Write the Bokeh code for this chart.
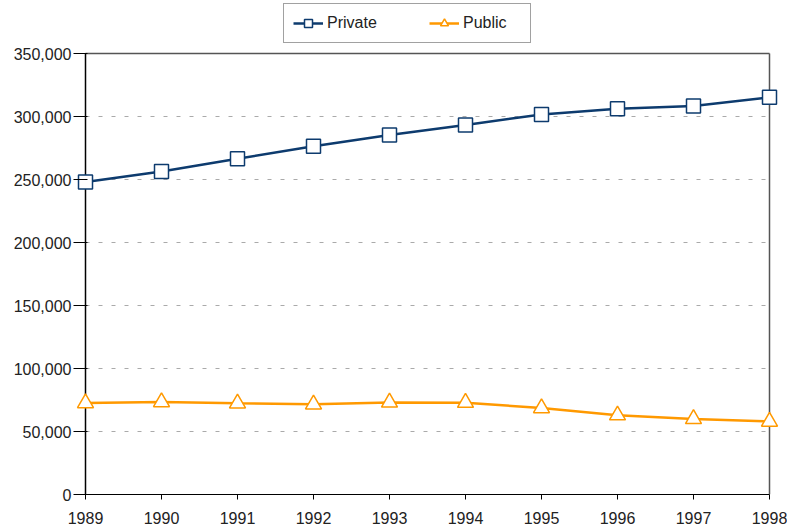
from bokeh.plotting import figure
from bokeh.models import Legend, LegendItem, NumeralTickFormatter, FixedTicker, Range1d
from bokeh.embed import file_html
from bokeh.resources import INLINE

years = [1989, 1990, 1991, 1992, 1993, 1994, 1995, 1996, 1997, 1998]
private = [248000, 256300, 266400, 276400, 285400, 293300, 301600, 306100, 308300, 315200]
public = [72600, 73400, 72400, 71600, 73100, 72900, 68600, 62900, 60000, 57900]
y_ticks = [0, 50000, 100000, 150000, 200000, 250000, 300000, 350000]

NAVY = "#0d3b6e"
ORANGE = "#ff9900"
FONT = "Liberation Sans"

X0, X1 = years[0], years[-1]
Y0, Y1 = y_ticks[0], y_ticks[-1]
# pads: 12 px each side so edge markers are not clipped; 53 px on top for the legend
xpad = 12 / 76.0
ypad = 53 * (Y1 - Y0) / 441.0

p = figure(width=787, height=531, output_backend="svg", toolbar_location=None,
           x_range=Range1d(X0 - xpad, X1 + xpad), y_range=Range1d(Y0, Y1 + ypad),
           min_border_left=73, min_border_right=6, min_border_top=0, min_border_bottom=37)

p.background_fill_color = "white"
p.border_fill_color = "white"
p.outline_line_color = None

# dashed horizontal gridlines between the axis bounds
grid_y = y_ticks[1:-1]
p.segment(x0=[X0] * len(grid_y), x1=[X1] * len(grid_y), y0=grid_y, y1=grid_y,
          line_color="#aaaaaa", line_dash="4 9", line_width=1)
# plot-area border (top and right)
p.segment(x0=[X0, X1], y0=[Y1, Y0], x1=[X1, X1], y1=[Y1, Y1],
          line_color="#555555", line_width=1.5)
# y axis line at the first year
p.segment(x0=[X0], y0=[Y0], x1=[X0], y1=[Y1], line_color="#000000", line_width=1.5)

l1 = p.line(years, private, line_color=NAVY, line_width=2.5)
m1 = p.scatter(years, private, marker="square", size=14, fill_color="white",
               line_color=NAVY, line_width=1.5)
l2 = p.line(years, public, line_color=ORANGE, line_width=2.5)
m2 = p.scatter(years, public, marker="triangle", size=16, fill_color="white",
               line_color=ORANGE, line_width=1.5)

for ax in (p.xaxis[0], p.yaxis[0]):
    ax.axis_line_color = "#000000"
    ax.axis_line_width = 1.2
    ax.major_tick_line_color = "#000000"
    ax.minor_tick_line_color = None
    ax.major_label_text_font = FONT
    ax.major_label_text_font_size = "16px"
    ax.major_label_text_color = "#222222"

p.xaxis.ticker = FixedTicker(ticks=years)
p.xaxis.bounds = (X0, X1)
p.xaxis.major_tick_out = 5
p.xaxis.major_tick_in = 0
p.xaxis.major_label_standoff = 12

# y axis sits at the frame edge (12 px left of 1989); its ticks reach over to 1989
p.yaxis.ticker = FixedTicker(ticks=y_ticks)
p.yaxis.bounds = (Y0, Y1)
p.yaxis.axis_line_color = None
p.yaxis.formatter = NumeralTickFormatter(format="0,0")
p.yaxis.major_tick_out = 0
p.yaxis.major_tick_in = 14
p.yaxis.major_label_standoff = 2

p.xgrid.grid_line_color = None
p.ygrid.grid_line_color = None

legend = Legend(items=[LegendItem(label="Private", renderers=[l1, m1]),
                       LegendItem(label="Public", renderers=[l2, m2])],
                orientation="horizontal", location=(210, 451),
                padding=9, spacing=44, glyph_width=30, glyph_height=20,
                label_standoff=4, label_width=58, label_text_font=FONT,
                label_text_font_size="16px", label_text_color="#222222",
                border_line_color="#444444", border_line_width=1.2,
                background_fill_color="white", margin=0)
p.add_layout(legend, "center")

open("out.html", "w").write(file_html(p, INLINE))
